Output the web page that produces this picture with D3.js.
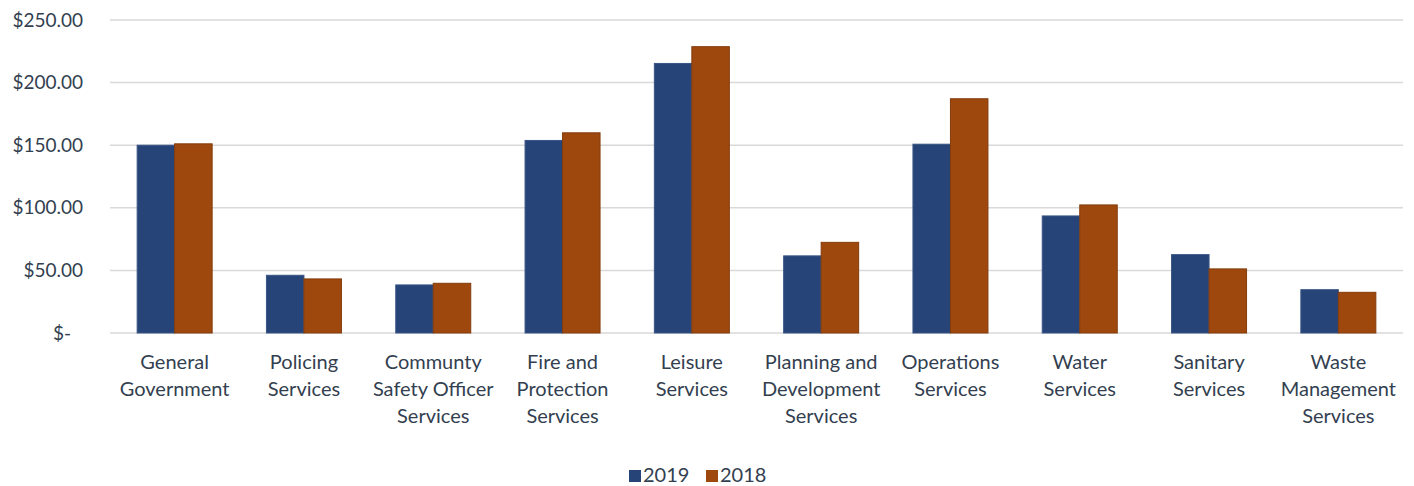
<!DOCTYPE html>
<html>
<head>
<meta charset="utf-8">
<script src="https://cdn.jsdelivr.net/npm/d3@7"></script>
<style>
  html, body { margin: 0; padding: 0; background: #fff; }
  svg text { font-family: Lato, "Open Sans", "Liberation Sans", sans-serif; }
</style>
</head>
<body>
<svg id="chart" width="1414" height="486"></svg>
<script>
// Per-service cost, two years side by side
const categories = [
  "General Government", "Policing Services", "Communty Safety Officer Services",
  "Fire and Protection Services", "Leisure Services", "Planning and Development Services",
  "Operations Services", "Water Services", "Sanitary Services", "Waste Management Services"
];
const categoryLines = [
  ["General", "Government"],
  ["Policing", "Services"],
  ["Communty", "Safety Officer", "Services"],
  ["Fire and", "Protection", "Services"],
  ["Leisure", "Services"],
  ["Planning and", "Development", "Services"],
  ["Operations", "Services"],
  ["Water", "Services"],
  ["Sanitary", "Services"],
  ["Waste", "Management", "Services"]
];
const seriesNames = ["2019", "2018"];
const values2019 = [150.0, 46.1, 38.4, 153.8, 215.3, 61.6, 150.8, 93.5, 62.6, 34.6];
const values2018 = [151.1, 43.2, 39.7, 159.9, 228.7, 72.4, 187.1, 102.3, 51.2, 32.5];
const yTicks = [0, 50, 100, 150, 200, 250];

const colors = { "2019": "#264478", "2018": "#9e480e" };
const strokes = { "2019": "#3a5585", "2018": "#843c0c" };
const textColor = "#333f50";

const svg = d3.select("#chart");
const margin = { left: 110, right: 11, top: 20, bottom: 153 };
const W = 1414, H = 486;

const x0 = d3.scaleBand().domain(categories).range([margin.left, W - margin.right]).padding(0);
const groupFrac = 0.58;
const x1 = d3.scaleBand().domain(seriesNames).range([0, x0.bandwidth() * groupFrac]).padding(0);
const y = d3.scaleLinear().domain([0, 250]).range([H - margin.bottom, margin.top]);

// Gridlines
svg.append("g")
  .selectAll("line")
  .data(yTicks)
  .join("line")
  .attr("x1", margin.left).attr("x2", W - margin.right)
  .attr("y1", d => y(d)).attr("y2", d => y(d))
  .attr("stroke", "#d9d9d9").attr("stroke-width", 1.5);

// Y axis labels
const yAxis = d3.axisLeft(y).tickValues(yTicks).tickSize(0).tickPadding(0)
  .tickFormat(d => d === 0 ? "$-" : "$" + d3.format(".2f")(d));
const yg = svg.append("g").attr("transform", `translate(${margin.left - 27},0)`).call(yAxis);
yg.select(".domain").remove();
yg.selectAll("text")
  .attr("fill", textColor).style("font-size", "19px")
  .attr("dx", d => d === 0 ? -12 : 0);

// Bars
const rows = categories.map((c, i) => ({ cat: c, vals: [
  { key: "2019", v: values2019[i] },
  { key: "2018", v: values2018[i] }
]}));
const offset = (x0.bandwidth() - x0.bandwidth() * groupFrac) / 2;
const groups = svg.append("g").selectAll("g")
  .data(rows).join("g")
  .attr("transform", d => `translate(${x0(d.cat) + offset},0)`);
groups.selectAll("rect")
  .data(d => d.vals).join("rect")
  .attr("x", d => x1(d.key))
  .attr("width", x1.bandwidth())
  .attr("y", d => y(d.v))
  .attr("height", d => y(0) - y(d.v))
  .attr("fill", d => colors[d.key])
  .attr("stroke", d => strokes[d.key])
  .attr("stroke-width", 1);

// Category labels
const lab = svg.append("g").selectAll("text")
  .data(categoryLines).join("text")
  .attr("text-anchor", "middle")
  .attr("fill", textColor)
  .style("font-size", "20px")
  .attr("x", (d, i) => x0(categories[i]) + x0.bandwidth() / 2)
  .attr("y", 369);
lab.selectAll("tspan")
  .data(d => d).join("tspan")
  .attr("x", function() { return d3.select(this.parentNode).attr("x"); })
  .attr("dy", (d, i) => i === 0 ? 0 : 27)
  .text(d => d);

// Legend
const legend = svg.append("g");
const legendX = [629, 706];
seriesNames.forEach((s, i) => {
  legend.append("rect")
    .attr("x", legendX[i]).attr("y", 470).attr("width", 12).attr("height", 12)
    .attr("fill", colors[s]);
  legend.append("text")
    .attr("x", legendX[i] + 14).attr("y", 482)
    .attr("fill", textColor).style("font-size", "20px")
    .text(s);
});
</script>
</body>
</html>
